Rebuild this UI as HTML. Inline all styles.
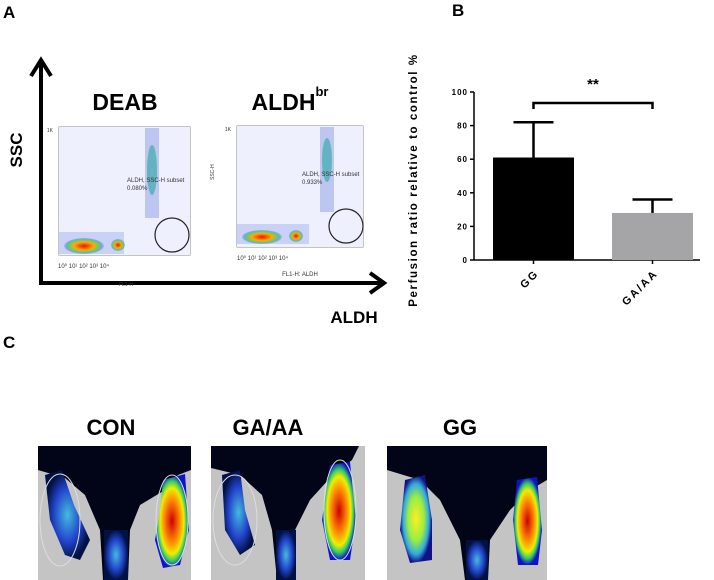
<!DOCTYPE html>
<html><head><meta charset="utf-8"><style>
body{margin:0;width:714px;height:580px;background:#fff;overflow:hidden;font-family:"Liberation Sans",sans-serif}
svg{position:absolute;left:0;top:0}
</style></head><body>
<svg width="714" height="580">
<defs>
<radialGradient id="hot" cx="50%" cy="50%" r="50%"><stop offset="0" stop-color="#c00"/><stop offset="0.45" stop-color="#f80"/><stop offset="0.7" stop-color="#ee0"/><stop offset="0.85" stop-color="#3c6"/><stop offset="1" stop-color="#11c"/></radialGradient>
<radialGradient id="warm" cx="50%" cy="50%" r="50%"><stop offset="0" stop-color="#fe2"/><stop offset="0.5" stop-color="#9e4"/><stop offset="0.8" stop-color="#3ad"/><stop offset="1" stop-color="#118"/></radialGradient>
<radialGradient id="cold" cx="50%" cy="50%" r="50%"><stop offset="0" stop-color="#4bd"/><stop offset="0.6" stop-color="#24c"/><stop offset="1" stop-color="#014"/></radialGradient>
<radialGradient id="dot" cx="50%" cy="50%" r="50%"><stop offset="0" stop-color="#e11"/><stop offset="0.5" stop-color="#fa0"/><stop offset="0.8" stop-color="#5c8"/><stop offset="1" stop-color="#36c" stop-opacity="0.2"/></radialGradient>
</defs>
<text x="3" y="18" font-size="17" font-weight="bold">A</text>
<text x="452" y="16" font-size="17" font-weight="bold">B</text>
<text x="3" y="348" font-size="17" font-weight="bold">C</text>

<g>
<line x1="41" y1="64" x2="41" y2="284" stroke="#000" stroke-width="4"/>
<polyline points="31,76 41,60 51,76" fill="none" stroke="#000" stroke-width="4"/>
<line x1="39" y1="283" x2="382" y2="283" stroke="#000" stroke-width="4"/>
<polyline points="370,273 384,283 370,293" fill="none" stroke="#000" stroke-width="4"/>
</g>
<text transform="translate(22,150) rotate(-90)" font-size="17" font-weight="bold" text-anchor="middle">SSC</text>
<text x="354" y="323" font-size="17" font-weight="bold" text-anchor="middle">ALDH</text>
<text x="125" y="110" font-size="23" font-weight="bold" text-anchor="middle">DEAB</text>
<text x="290" y="110" font-size="23" font-weight="bold" text-anchor="middle">ALDH<tspan font-size="13" dy="-14">br</tspan></text>

<g>
<rect x="59" y="127" width="131" height="128" fill="#fff" stroke="#888"/>
<rect x="59" y="127" width="131" height="128" fill="#eef0fd"/>
<rect x="145" y="128" width="14" height="90" fill="#8a9be6" opacity="0.5"/>
<ellipse cx="152" cy="170" rx="5" ry="25" fill="#2aa6a0" opacity="0.6"/>
<rect x="59" y="232" width="65" height="22" fill="#b2bdf2" opacity="0.6"/>
<ellipse cx="84" cy="246" rx="20" ry="8" fill="url(#dot)"/>
<ellipse cx="118" cy="245" rx="7" ry="6" fill="url(#dot)"/>
<circle cx="172" cy="235" r="17" fill="none" stroke="#222" stroke-width="1.2"/>
<text x="127" y="182" font-size="6" fill="#333">ALDH, SSC-H subset</text>
<text x="127" y="190" font-size="6" fill="#333">0.080%</text>
<text x="53" y="132" font-size="5" text-anchor="end" fill="#333">1K</text>
<text x="58" y="268" font-size="6" fill="#333">10⁰    10¹    10²    10³   10⁴</text>
<text x="126" y="286" font-size="5" text-anchor="middle" fill="#333">FL1-H</text>
</g>
<g>
<rect x="237" y="126" width="126" height="121" fill="#fff" stroke="#888"/>
<rect x="237" y="126" width="126" height="121" fill="#eef0fd"/>
<rect x="320" y="127" width="14" height="85" fill="#8a9be6" opacity="0.5"/>
<ellipse cx="327" cy="160" rx="5" ry="22" fill="#2aa6a0" opacity="0.6"/>
<rect x="237" y="224" width="72" height="20" fill="#b2bdf2" opacity="0.6"/>
<ellipse cx="262" cy="237" rx="20" ry="7" fill="url(#dot)"/>
<ellipse cx="296" cy="236" rx="7" ry="6" fill="url(#dot)"/>
<circle cx="346" cy="226" r="17" fill="none" stroke="#222" stroke-width="1.2"/>
<text x="302" y="176" font-size="6" fill="#333">ALDH, SSC-H subset</text>
<text x="302" y="184" font-size="6" fill="#333">0.933%</text>
<text x="231" y="131" font-size="5" text-anchor="end" fill="#333">1K</text>
<text transform="translate(214,180) rotate(-90)" font-size="5" fill="#333">SSC-H</text>
<text x="237" y="260" font-size="6" fill="#333">10⁰    10¹    10²    10³   10⁴</text>
<text x="300" y="276" font-size="6" text-anchor="middle" fill="#333">FL1-H: ALDH</text>
</g>

<g id="bars"></g>
<text transform="translate(417,180) rotate(-90)" font-size="11.5" font-weight="bold" letter-spacing="1.6" text-anchor="middle">Perfusion ratio relative to control %</text>

<text x="111" y="435" font-size="22" font-weight="bold" text-anchor="middle">CON</text>
<text x="268" y="435" font-size="22" font-weight="bold" text-anchor="middle">GA/AA</text>
<text x="460" y="435" font-size="22" font-weight="bold" text-anchor="middle">GG</text>

<g>
<rect x="38" y="446" width="153" height="134" fill="#c4c4c4"/>
<path d="M38,446 H191 V470 L178,475 L165,490 L140,505 L130,530 L128,580 H103 L100,530 L85,495 L65,478 L38,470 Z" fill="#020418"/>
<path d="M45,475 L62,470 L74,505 L90,540 L80,560 L65,555 L50,520 Z" fill="url(#cold)"/>
<path d="M163,480 L185,474 L189,530 L180,565 L163,568 L155,540 L160,510 Z" fill="url(#hot)"/>
<rect x="104" y="530" width="24" height="50" fill="url(#cold)"/>
<ellipse cx="60" cy="520" rx="20" ry="46" fill="none" stroke="#ddd"/>
<ellipse cx="172" cy="520" rx="16" ry="45" fill="none" stroke="#ddd"/>
</g>
<g>
<rect x="211" y="446" width="154" height="134" fill="#c4c4c4"/>
<path d="M211,446 H359 L352,460 L330,478 L310,500 L295,530 L294,580 H277 L272,530 L262,495 L240,475 L211,468 Z" fill="#020418"/>
<path d="M222,475 L240,470 L245,510 L255,545 L240,555 L225,530 Z" fill="url(#cold)"/>
<path d="M330,465 L350,462 L356,520 L350,560 L330,560 L322,520 Z" fill="url(#hot)"/>
<rect x="276" y="530" width="20" height="50" fill="url(#cold)"/>
<ellipse cx="235" cy="520" rx="22" ry="45" fill="none" stroke="#ddd"/>
<ellipse cx="340" cy="510" rx="16" ry="50" fill="none" stroke="#ddd"/>
</g>
<g>
<rect x="387" y="446" width="160" height="134" fill="#c4c4c4"/>
<path d="M387,446 H547 V480 L530,490 L510,510 L490,540 L488,580 H465 L460,540 L440,500 L420,480 L387,470 Z" fill="#020418"/>
<path d="M405,480 L425,475 L432,520 L432,560 L410,563 L400,530 Z" fill="url(#warm)"/>
<path d="M517,480 L537,477 L542,530 L538,565 L518,565 L513,520 Z" fill="url(#hot)"/>
<rect x="466" y="540" width="22" height="40" fill="url(#cold)"/>
</g>
</svg>
<script>
const categories=["GG","GA/AA"];
const means=[61,28];
const errors=[21,8];
const colors=["#000","#a5a5a8"];
const yTicks=[0,20,40,60,80,100];
const NS="http://www.w3.org/2000/svg";
const g=document.getElementById('bars');
const y0=260,yTop=92,axX=474;
function Y(v){return y0-(v/100)*(y0-yTop);}
function X(i){return 493+i*119;}
const bw=81;
function mk(t,a){const e=document.createElementNS(NS,t);for(const k in a)e.setAttribute(k,a[k]);g.appendChild(e);return e;}
let ax=mk('line',{x1:axX,y1:Y(100),x2:axX,y2:y0,stroke:'#000','stroke-width':1.5});


let xa=mk('line',{x1:axX,y1:y0,x2:700,y2:y0,stroke:'#000','stroke-width':1.5});


yTicks.forEach(v=>{
 mk('line',{x1:axX-4,y1:Y(v),x2:axX,y2:Y(v),stroke:'#000','stroke-width':1.5});
 const t=mk('text',{x:axX-6,y:Y(v)+3,'font-size':8,'font-weight':'bold','text-anchor':'end','letter-spacing':1});
 t.textContent=v;
 
 
});
categories.forEach((c,i)=>{
 const x=X(i),cx=x+bw/2;
 const eb=mk('line',{x1:cx,y1:Y(means[i]+errors[i]),x2:cx,y2:Y(means[i]),stroke:'#000','stroke-width':2.5});
 
 
 mk('line',{x1:cx-20,y1:Y(means[i]+errors[i]),x2:cx+20,y2:Y(means[i]+errors[i]),stroke:'#000','stroke-width':2.5});
 const r=mk('rect',{x:x,y:Y(means[i]),width:bw,height:y0-Y(means[i]),fill:colors[i]});
 
 
 mk('line',{x1:cx,y1:y0,x2:cx,y2:y0+4,stroke:'#000','stroke-width':1.5});
 const t=mk('text',{transform:`translate(${cx+6},${y0+14}) rotate(-45)`,'font-size':11,'font-weight':'bold','text-anchor':'end','letter-spacing':2});
 t.textContent=c;
 
 
});
const b1=X(0)+bw/2,b2=X(1)+bw/2;
const br=mk('polyline',{points:`${b1},109 ${b1},103 ${b2},103 ${b2},109`,fill:'none',stroke:'#000','stroke-width':2.5});


const st=mk('text',{x:(b1+b2)/2,y:89,'font-size':15,'font-weight':'bold','text-anchor':'middle'});
st.textContent='**';


</script>
</body></html>
